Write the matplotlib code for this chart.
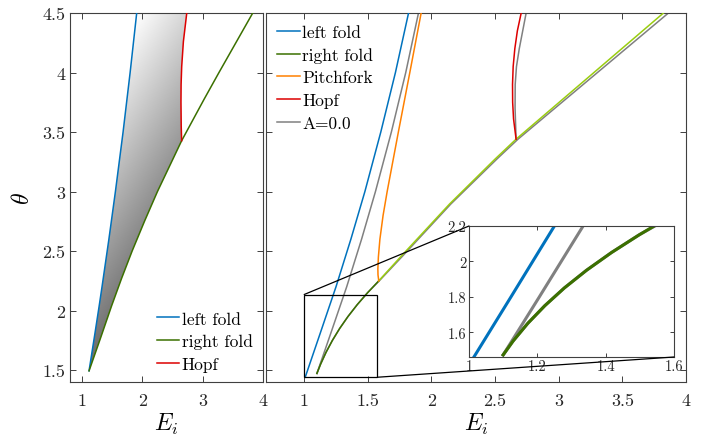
import numpy as np
import matplotlib
matplotlib.use("Agg")
import matplotlib.pyplot as plt
from matplotlib.patches import Polygon, Rectangle, ConnectionPatch

plt.rcParams['font.family'] = 'serif'
plt.rcParams['font.serif'] = ['cmr10']
plt.rcParams['mathtext.fontset'] = 'cm'
plt.rcParams['axes.formatter.use_mathtext'] = True

# ---------------- data: left panel ----------------
L_left_fold_E = [1.116, 1.211, 1.284, 1.331, 1.445, 1.553, 1.680, 1.797, 1.906]
L_left_fold_th = [1.494, 1.8, 2.04, 2.2, 2.6, 3.0, 3.5, 4.0, 4.5]
L_right_fold_E = [1.116, 1.30, 1.49, 1.655, 1.83, 2.035, 2.25, 2.651, 3.025, 3.27, 3.83]
L_right_fold_th = [1.494, 1.76, 2.04, 2.27, 2.5, 2.75, 3.0, 3.427, 3.777, 4.0, 4.5]
L_hopf_E = [2.651, 2.644, 2.640, 2.642, 2.652, 2.68, 2.736]
L_hopf_th = [3.427, 3.55, 3.75, 3.9, 4.05, 4.26, 4.5]

# ---------------- data: right panel ----------------
R_left_fold_E = [1.008, 1.123, 1.25, 1.367, 1.477, 1.602, 1.717, 1.82]
R_left_fold_th = [1.44, 1.8, 2.2, 2.6, 3.0, 3.5, 4.0, 4.5]
R_right_fold_lo_E = [1.10, 1.129, 1.172, 1.222, 1.279, 1.344, 1.417, 1.498, 1.586]
R_right_fold_lo_th = [1.472, 1.55, 1.65, 1.75, 1.85, 1.95, 2.05, 2.15, 2.25]
R_right_fold_hi_E = [1.586, 1.765, 2.142, 2.50, 2.665, 3.823]
R_right_fold_hi_th = [2.25, 2.46, 2.895, 3.273, 3.44, 4.5]
R_pitch_E = [1.586, 1.580, 1.579, 1.583, 1.595, 1.620, 1.652, 1.74, 1.83, 1.919]
R_pitch_th = [2.25, 2.3, 2.35, 2.45, 2.6, 2.8, 3.0, 3.5, 4.0, 4.5]
R_hopf_E = [2.665, 2.645, 2.638, 2.637, 2.642, 2.655, 2.675, 2.705]
R_hopf_th = [3.44, 3.61, 3.75, 3.9, 4.05, 4.2, 4.35, 4.5]
# A = 0.0 reference curves
A0_left_E = [1.10, 1.206, 1.334, 1.451, 1.560, 1.685, 1.798, 1.898]
A0_left_th = [1.472, 1.8, 2.2, 2.6, 3.0, 3.5, 4.0, 4.5]
A0_right_E = [1.10, 1.129, 1.172, 1.222, 1.279, 1.344, 1.417, 1.498, 1.59,
              1.775, 2.152, 2.514, 2.68, 3.862]
A0_right_th = [1.472, 1.55, 1.65, 1.75, 1.85, 1.95, 2.05, 2.15, 2.25,
               2.46, 2.895, 3.273, 3.44, 4.5]
A0_hopf_E = [2.665, 2.657, 2.658, 2.668, 2.69, 2.744]
A0_hopf_th = [3.44, 3.7, 3.9, 4.05, 4.2, 4.5]

# zoom window
zoom_rect_E = [1.0, 1.575]
zoom_rect_th = [1.44, 2.135]

C_BLUE = '#0072BD'
C_GREEN = '#3B7000'
C_LGREEN = '#9ACD10'
C_ORANGE = '#FF8000'
C_RED = '#DD0000'
C_GRAY = '#808080'
SPINE = '#404040'

fig = plt.figure(figsize=(7.16, 4.39), dpi=100)
axL = fig.add_axes([70/716, 1-383/439, 193/716, 369/439])
axR = fig.add_axes([266/716, 1-383/439, 420/716, 369/439])
axI = fig.add_axes([469/716, 1-358/439, 205/716, 131/439])

def style(ax, fs):
    for s in ax.spines.values():
        s.set_color(SPINE)
        s.set_linewidth(0.8)
    ax.tick_params(direction='in', top=True, right=True, length=4,
                   width=0.7, color=SPINE, labelsize=fs, labelcolor='#262626')
    ax.tick_params(axis='x', pad=8)

# ---------- left panel ----------
axL.set_xlim(0.8, 4)
axL.set_ylim(1.4, 4.5)
hop_idx = L_right_fold_th.index(L_hopf_th[0])
poly_pts = (list(zip(L_left_fold_E, L_left_fold_th)) +
            list(zip(L_hopf_E[::-1], L_hopf_th[::-1])) +
            list(zip(L_right_fold_E[:hop_idx + 1][::-1], L_right_fold_th[:hop_idx + 1][::-1])))
poly = Polygon(poly_pts, closed=True, facecolor='none', edgecolor='none',
               transform=axL.transData)
axL.add_patch(poly)
Eg, Tg = np.meshgrid(np.linspace(0.8, 4, 300), np.linspace(1.4, 4.5, 300))
G = np.clip(1 - 0.243 * (4.5 - Tg) - 0.19 * (Eg - 1.9), 0, 1)
im = axL.imshow(G, cmap='gray', vmin=0, vmax=1, origin='lower',
                extent=[0.8, 4, 1.4, 4.5], aspect='auto', interpolation='bilinear',
                zorder=1)
im.set_clip_path(poly)
axL.plot(L_left_fold_E, L_left_fold_th, color=C_BLUE, lw=1.1, label='left fold', zorder=3)
axL.plot(L_right_fold_E, L_right_fold_th, color=C_GREEN, lw=1.1, label='right fold', zorder=3)
axL.plot(L_hopf_E, L_hopf_th, color=C_RED, lw=1.1, label='Hopf', zorder=3)
axL.set_xticks([1, 2, 3, 4])
axL.set_xticklabels(['1', '2', '3', '4'])
axL.set_yticks([1.5, 2, 2.5, 3, 3.5, 4, 4.5])
axL.set_yticklabels(['1.5', '2', '2.5', '3', '3.5', '4', '4.5'])
style(axL, 13)
axL.set_xlabel(r'$E_i$', fontsize=17, labelpad=2)
axL.set_ylabel(r'$\theta$', fontsize=17, labelpad=6)
axL.legend(loc='lower right', frameon=False, fontsize=12.5, handlelength=1.3,
           handletextpad=0.15, labelspacing=0.4, borderaxespad=0.2)

# ---------- right panel ----------
axR.set_xlim(0.7, 4)
axR.set_ylim(1.4, 4.5)
axR.plot(A0_right_E, A0_right_th, color=C_GRAY, lw=1.1, zorder=2)
axR.plot(A0_left_E, A0_left_th, color=C_GRAY, lw=1.1, zorder=2)
axR.plot(A0_hopf_E, A0_hopf_th, color=C_GRAY, lw=1.1, zorder=2)
axR.plot(R_left_fold_E, R_left_fold_th, color=C_BLUE, lw=1.1, label='left fold', zorder=3)
axR.plot(R_right_fold_lo_E, R_right_fold_lo_th, color=C_GREEN, lw=1.1, label='right fold', zorder=3)
axR.plot(R_right_fold_hi_E, R_right_fold_hi_th, color=C_LGREEN, lw=1.1, zorder=3)
axR.plot(R_pitch_E, R_pitch_th, color=C_ORANGE, lw=1.1, label='Pitchfork', zorder=3)
axR.plot(R_hopf_E, R_hopf_th, color=C_RED, lw=1.1, label='Hopf', zorder=3)
axR.plot([], [], color=C_GRAY, lw=1.1, label='A=0.0')
axR.set_xticks([1, 1.5, 2, 2.5, 3, 3.5, 4])
axR.set_xticklabels(['1', '1.5', '2', '2.5', '3', '3.5', '4'])
axR.set_yticks([1.5, 2, 2.5, 3, 3.5, 4, 4.5])
axR.set_yticklabels([])
style(axR, 13)
axR.set_xlabel(r'$E_i$', fontsize=17, labelpad=2)
axR.legend(loc='upper left', frameon=False, fontsize=12.5, handlelength=1.3,
           handletextpad=0.15, labelspacing=0.42, borderaxespad=0.25)

rect = Rectangle((zoom_rect_E[0], zoom_rect_th[0]), zoom_rect_E[1] - zoom_rect_E[0],
                 zoom_rect_th[1] - zoom_rect_th[0], fill=False, edgecolor='black',
                 lw=0.9, zorder=4)
axR.add_patch(rect)

# ---------- inset ----------
axI.set_xlim(1, 1.6)
axI.set_ylim(1.46, 2.2)
axI.plot(A0_right_E, A0_right_th, color=C_GRAY, lw=2.2)
axI.plot(A0_left_E, A0_left_th, color=C_GRAY, lw=2.2)
axI.plot(R_left_fold_E, R_left_fold_th, color=C_BLUE, lw=2.2)
axI.plot(R_right_fold_lo_E, R_right_fold_lo_th, color=C_GREEN, lw=2.2)
axI.set_xticks([1, 1.2, 1.4, 1.6])
axI.set_xticklabels(['1', '1.2', '1.4', '1.6'])
axI.set_yticks([1.6, 1.8, 2, 2.2])
axI.set_yticklabels(['1.6', '1.8', '2', '2.2'])
style(axI, 10.5)
axI.tick_params(pad=2, length=3)

for (xa, ya), (xb, yb) in [((zoom_rect_E[0], zoom_rect_th[1]), (1.0, 2.2)),
                           ((zoom_rect_E[1], zoom_rect_th[0]), (1.6, 1.46))]:
    cp = ConnectionPatch(xyA=(xa, ya), coordsA=axR.transData,
                         xyB=(xb, yb), coordsB=axI.transData,
                         color='black', lw=0.9, zorder=5)
    fig.add_artist(cp)

fig.savefig('out.png', dpi=100)
